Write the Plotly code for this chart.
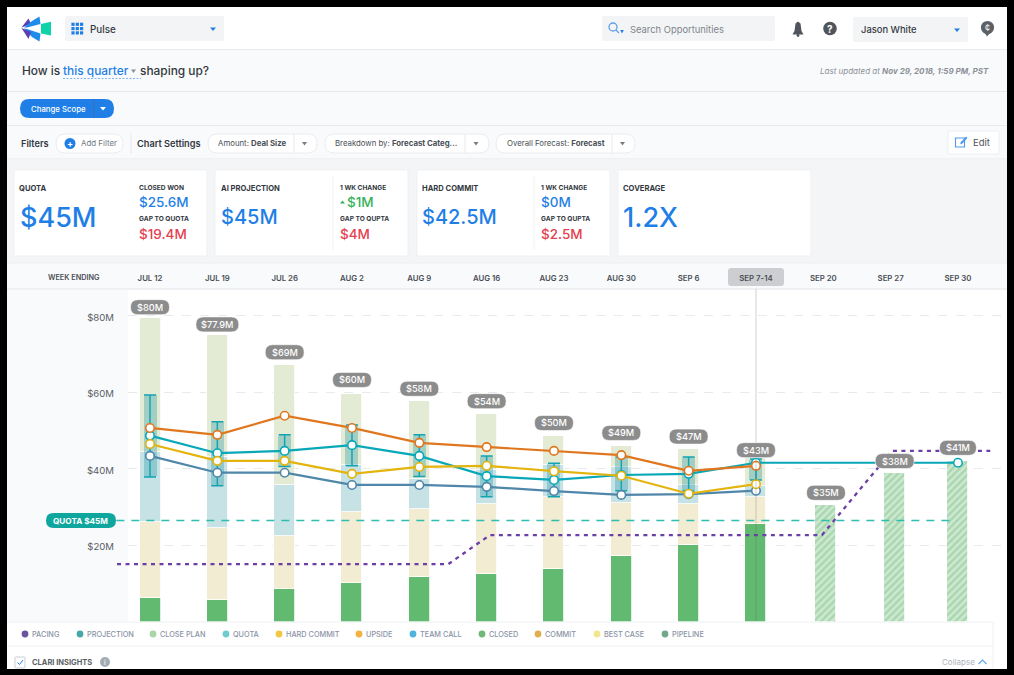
import plotly.graph_objects as go

W, H = 1014, 675
FONT = "Inter, Roboto, sans-serif"

weeks = ["JUL 12", "JUL 19", "JUL 26", "AUG 2", "AUG 9", "AUG 16", "AUG 23", "AUG 30",
         "SEP 6", "SEP 7-14", "SEP 20", "SEP 27", "SEP 30"]
week_pos = [0, 1, 2, 3, 4, 5, 6, 7, 8, 9, 10.04, 11.06, 12]

closed = [6.1, 5.6, 8.5, 10.1, 11.6, 12.4, 13.7, 17.1, 20, 25.5]
commit = [20, 18.8, 13.9, 18.5, 17.8, 18.3, 18.8, 13.9, 10.7, 7]
team_call = [18.2, 18.6, 13.3, 12.3, 7.9, 8.9, 8.4, 9.4, 5, 2.9]
close_plan = [35, 31.8, 31.3, 18.6, 20.4, 14.6, 7.6, 5.5, 9.5, 7.3]
pipeline = [30.5, 38.8, 42]

upside = [50.6, 48.8, 53.8, 50.6, 46.7, 45.6, 44.6, 43.5, 39.4, 40.7]
projection = [48.6, 44, 44.6, 46.1, 43.3, 38, 37, 38.3, 38.6, 41.5, 41.5, 41.5, 41.5]
hard_commit = [46.4, 42, 42, 38.6, 40.4, 40.7, 39.3, 38.1, 33.4, 35.9]
best_case = [43.3, 38.9, 38.9, 35.7, 35.7, 35.2, 34.1, 33.1, 33.3, 34.2]
range_high = [59.2, 52.2, 48.8, 51.4, 48.8, 43.3, 41.4, 43, 43, 42.5]
range_low = [37.8, 35.5, 40.5, 40.7, 37.9, 32.6, 32.6, 34.2, 34.1, 37]

pacing_x = [-0.49, 4.43, 5.05, 9.98, 11.02, 12.48]
pacing_y = [15, 15, 22.6, 22.6, 44.6, 44.6]
quota_x = [-0.5, 11.98]
quota_y = [26.4, 26.4]

total_labels = ["$80M", "$77.9M", "$69M", "$60M", "$58M", "$54M", "$50M", "$49M", "$47M",
                "$43M", "$35M", "$38M", "$41M"]
total_tops = [79.3, 74.8, 67, 59.5, 57.7, 54.2, 48.5, 45.9, 45.2, 42.7, 30.5, 38.8, 42]
label_lift = [11, 11, 13, 14, 12, 13, 13, 13, 12, 8, 12, 12, 13]
label_width = [39, 43, 39, 39, 39, 39, 39, 39, 39, 39, 39, 39, 37]

y_ticks = [0, 20, 40, 60, 80]
y_labels = ["", "$20M", "$40M", "$60M", "$80M"]

legend_names = ["PACING", "PROJECTION", "CLOSE PLAN", "QUOTA", "HARD COMMIT", "UPSIDE",
                "TEAM CALL", "CLOSED", "COMMIT", "BEST CASE", "PIPELINE"]
legend_colors = ["#6B559F", "#45A8A6", "#A9D6A8", "#6ECCCC", "#F3C63F", "#F3B23F",
                 "#4FB4DA", "#70B877", "#E0AE4E", "#F3E78E", "#6FA88A"]
legend_dot_x = [25, 80, 153, 226, 279, 359, 413, 482, 538, 597, 665]

BLUE = "#1F7FE6"
RED = "#E5404F"
GREEN = "#35B25A"
DARK = "#33383F"
GREY = "#7C828A"
LINE = "#E7E9EC"
PANEL = "#F9FAFC"


def px(x):
    return x / W


def py(y):
    return 1 - y / H


shapes = []
annots = []


def rect(x0, y0, x1, y1, fill, line=None, layer="below", lw=1):
    shapes.append(dict(type="rect", xref="paper", yref="paper", x0=px(x0), x1=px(x1), y0=py(y0), y1=py(y1),
                       fillcolor=fill, line=dict(color=line or fill, width=lw if line else 0), layer=layer))


def rrect(x0, y0, x1, y1, r, fill, line=None, layer="below"):
    p = [("M", x0 + r, y0), ("L", x1 - r, y0), ("Q", x1, y0, x1, y0 + r), ("L", x1, y1 - r),
         ("Q", x1, y1, x1 - r, y1), ("L", x0 + r, y1), ("Q", x0, y1, x0, y1 - r), ("L", x0, y0 + r),
         ("Q", x0, y0, x0 + r, y0)]
    d = ""
    for s in p:
        d += s[0] + " ".join(f"{px(s[i]):.5f},{py(s[i + 1]):.5f}" for i in range(1, len(s), 2)) + " "
    shapes.append(dict(type="path", xref="paper", yref="paper", path=d + "Z", fillcolor=fill,
                       line=dict(color=line or fill, width=1 if line else 0), layer=layer))


def poly(points, fill, layer="below"):
    d = "M" + " L".join(f"{px(a):.5f},{py(b):.5f}" for a, b in points) + " Z"
    shapes.append(dict(type="path", xref="paper", yref="paper", path=d, fillcolor=fill,
                       line=dict(width=0), layer=layer))


def circle(cx, cy, r, fill, line=None, layer="below"):
    shapes.append(dict(type="circle", xref="paper", yref="paper", x0=px(cx - r), x1=px(cx + r),
                       y0=py(cy - r), y1=py(cy + r), fillcolor=fill,
                       line=dict(color=line or fill, width=1.3 if line else 0), layer=layer))


def hline(x0, x1, y, color=LINE, width=1, dash="solid"):
    shapes.append(dict(type="line", xref="paper", yref="paper", x0=px(x0), x1=px(x1), y0=py(y), y1=py(y),
                       line=dict(color=color, width=width, dash=dash), layer="below"))


def vline(x, y0, y1, color=LINE, width=1):
    shapes.append(dict(type="line", xref="paper", yref="paper", x0=px(x), x1=px(x), y0=py(y0), y1=py(y1),
                       line=dict(color=color, width=width), layer="below"))


def text(x, y, s, size=9, color=DARK, anchor="left", weight=400):
    annots.append(dict(xref="paper", yref="paper", x=px(x), y=py(y), text=s, showarrow=False,
                       xanchor=anchor, yanchor="middle", borderpad=0, borderwidth=0,
                       font=dict(family=FONT, size=size, color=color, weight=weight)))


def caret(cx, cy, color=BLUE, s=3):
    poly([(cx - s, cy - 1.5), (cx + s, cy - 1.5), (cx, cy + 2)], color)


# page frame
rect(7, 7, 1007, 669, "#FFFFFF")
rect(7, 50, 1007, 159, PANEL)
rect(7, 160, 1007, 263, "#F4F5F7")
rect(7, 263, 1007, 289, PANEL)
rect(7, 290, 128, 621, PANEL)
hline(7, 1007, 49.5)
hline(7, 1007, 91.5)
hline(7, 1007, 125.5)
hline(7, 1007, 159)
hline(7, 1007, 263, "#ECEEF1")
hline(7, 1007, 289, "#E2E4E8")

# header
poly([(41, 24), (51, 21.7), (51, 35.5), (41, 33.5)], "#0ED3A8")
poly([(21.5, 27.5), (28.5, 18.5), (31, 24)], "#5B3FB5")
poly([(24, 27.5), (32, 21), (39.5, 16.5), (40.5, 24), (27, 27.5)], "#1F8BEA")
poly([(24, 28.5), (27, 29), (40.5, 33.5), (39.5, 41.5), (32, 37)], "#1F8BEA")
poly([(21.5, 28), (31, 32), (28.5, 39)], "#5B3FB5")
rrect(65, 16, 224, 41, 2, "#F3F4F6")
for gx in (73, 77.3, 81.6):
    for gy in (24.3, 28.6, 32.9):
        rect(gx - 1.6, gy - 1.6, gx + 1.6, gy + 1.6, BLUE)
text(90, 29.5, "Pulse", 9.8, DARK, weight=500)
caret(213, 29)
rrect(602, 16, 775, 41, 2, "#F3F4F6")
circle(613, 27, 4, "rgba(0,0,0,0)", "#5E9FEA")
shapes.append(dict(type="line", xref="paper", yref="paper", x0=px(616), x1=px(619), y0=py(30), y1=py(33),
                   line=dict(color="#5E9FEA", width=1.2), layer="below"))
caret(622, 31.5, BLUE, 1.8)
text(630, 29.5, "Search Opportunities", 9.4, "#7E848C")
poly([(798, 21.5), (800.5, 23.5), (801.5, 31), (803.5, 34.5), (792.5, 34.5), (794.5, 31), (795.5, 23.5)], "#50555C")
circle(798, 35.5, 1.4, "#50555C")
circle(830, 28.5, 6.8, "#50555C")
text(830, 28.5, "<b>?</b>", 10, "#FFFFFF", "center")
rrect(853, 17, 968, 42, 2, "#F3F4F6")
text(861, 30, "Jason White", 9.4, DARK, weight=500)
caret(957, 30)
circle(987.5, 27.5, 6.6, "#5C6167")
poly([(985, 33), (990, 33), (987, 36.5)], "#5C6167")
text(987.5, 27.5, "¢", 9, "#FFFFFF", "center")

# title row
text(22, 71, "How is", 11.9, DARK, weight=500)
text(62.5, 71, "this quarter", 11.9, BLUE, weight=500)
caret(133.5, 71, "#8A9098", 2.5)
text(140, 71, "shaping up?", 11.9, DARK, weight=500)
hline(63, 141, 78.5, "#7FB6F0", 1, "2px,1.5px")
text(989, 71, "<i>Last updated at </i><i><b>Nov 29, 2018, 1:59 PM, PST</b></i>", 8, "#8C9198", "right")

# scope button
rrect(20, 99, 114, 118, 9.5, BLUE)
vline(94, 99, 118, "#3E6FB5")
text(30.5, 108.7, "Change Scope", 7.8, "#FFFFFF", weight=500)
caret(103, 108.5, "#FFFFFF")

# filter row
text(21, 143, "Filters", 9.2, DARK, weight=600)
rrect(56, 134, 123, 153, 9.5, "#FFFFFF", "#EAECEF")
circle(70, 143.5, 5.5, BLUE)
text(70, 143, "<b>+</b>", 9, "#FFFFFF", "center")
text(81, 143.5, "Add Filter", 7.9, "#71777F")
vline(131, 133, 154)
text(137, 143.5, "Chart Settings", 9.2, DARK, weight=600)
for x0, x1, div, tx, s in [
    (208, 317, 294, 218, "Amount: <b>Deal Size</b>"),
    (325, 489, 465, 335, "Breakdown by: <b>Forecast Categ...</b>"),
    (496, 635, 612, 507, "Overall Forecast: <b>Forecast</b>"),
]:
    rrect(x0, 134, x1, 153, 9.5, "#FFFFFF", "#EAECEF")
    vline(div, 134, 153)
    caret((div + x1) / 2 - 1, 143.5, "#777D85", 2.5)
    text(tx, 143.5, s, 7.8, "#4A4F56")
rrect(948, 131, 999, 154, 1, "#FFFFFF", "#ECEEF1")
shapes.append(dict(type="rect", xref="paper", yref="paper", x0=px(955.5), x1=px(964.5), y0=py(138), y1=py(147),
                   fillcolor="rgba(0,0,0,0)", line=dict(color="#4E9BEA", width=1.1), layer="below"))
poly([(960, 143), (966, 136.5), (967.5, 138), (961.5, 144.5)], "#4E9BEA")
text(973, 142.7, "Edit", 9.5, "#50555C")

# KPI cards
for x0 in (14, 215, 417, 618):
    rrect(x0, 170, x0 + 193, 256, 1.5, "#FFFFFF", "#EEF0F2")
SM = 6.6
MID = 13.5
text(19, 188, "<b>QUOTA</b>", 7.6, DARK)
text(20, 217, "$45M", 27, BLUE, weight=500)
text(139, 188, "<b>CLOSED WON</b>", SM, DARK)
text(139, 202, "$25.6M", MID, BLUE, weight=500)
text(139, 219, "<b>GAP TO QUOTA</b>", SM, DARK)
text(139, 233.5, "$19.4M", MID, RED, weight=500)
text(221, 188, "<b>AI PROJECTION</b>", 7.6, DARK)
text(221, 217, "$45M", 20, BLUE, weight=500)
vline(333, 176, 250, "#F1F2F4")
text(340, 188, "<b>1 WK CHANGE</b>", SM, DARK)
poly([(340, 203.5), (345, 203.5), (342.5, 200.5)], GREEN)
text(347, 202, "$1M", MID, GREEN, weight=500)
text(340, 219, "<b>GAP TO QUPTA</b>", SM, DARK)
text(340, 233.5, "$4M", MID, RED, weight=500)
text(422, 188, "<b>HARD COMMIT</b>", 7.6, DARK)
text(422, 217, "$42.5M", 20, BLUE, weight=500)
vline(534, 176, 250, "#F1F2F4")
text(541, 188, "<b>1 WK CHANGE</b>", SM, DARK)
text(541, 202, "$0M", MID, BLUE, weight=500)
text(541, 219, "<b>GAP TO QUPTA</b>", SM, DARK)
text(541, 233.5, "$2.5M", MID, RED, weight=500)
text(623, 188, "<b>COVERAGE</b>", 7.6, DARK)
text(623, 217, "1.2X", 27, BLUE, weight=500)

# week row extras
text(74, 277, "WEEK ENDING", 7.3, "#4A4F56", "center", weight=600)
rrect(728, 268, 784, 286, 3, "#CDCED1")

# legend strip
rect(7, 622, 993, 669, "#FFFFFF")
hline(7, 993, 622, "#EEF0F2")
hline(7, 993, 646, "#F1F2F4")
vline(993, 622, 669, "#EEF0F2")
for name, colr, dx in zip(legend_names, legend_colors, legend_dot_x):
    circle(dx, 634, 3.4, colr)
    text(dx + 7, 634, name, 7.3, "#8A94A6", weight=500)
rrect(15, 657, 25, 668, 1, "#FFFFFF", "#C9CDD3")
shapes.append(dict(type="path", xref="paper", yref="paper",
                   path=f"M{px(17.5)},{py(662.5)} L{px(19.5)},{py(664.5)} L{px(23)},{py(660)}",
                   line=dict(color=BLUE, width=1), layer="below"))
text(32, 662, "<b>CLARI INSIGHTS</b>", 7.5, "#5A6068")
circle(105, 662, 5, "#A3ABB5")
text(105, 662, "i", 7, "#FFFFFF", "center")
text(975, 662, "Collapse", 8, "#AEB4BC", "right")
shapes.append(dict(type="path", xref="paper", yref="paper",
                   path=f"M{px(978.5)},{py(664)} L{px(982.5)},{py(660)} L{px(986.5)},{py(664)}",
                   line=dict(color="#5EA5EE", width=1.1), layer="below"))

fig = go.Figure()
x10 = week_pos[:10]
bar_w = 21 / 67.33
for vals, colr in [(closed, "#62BA70"), (commit, "#F2EDD2"), (team_call, "#C7E2E5"), (close_plan, "#E3EBD5")]:
    fig.add_trace(go.Bar(x=x10, y=vals, width=bar_w, marker=dict(color=colr, line=dict(color="#FFFFFF", width=0.8))))
fig.add_trace(go.Bar(x=week_pos[10:], y=pipeline, width=bar_w,
                     marker=dict(color="#CFE8D1", line=dict(color="#FFFFFF", width=0.8),
                                 pattern=dict(shape="/", fgcolor="#82C58F", bgcolor="#CFE8D1", size=5, solidity=0.5))))

# second subplot, wider to the left: range bands, whiskers and lines
ov = dict(xaxis="x2", yaxis="y2")
fig.add_trace(go.Bar(x=x10, base=range_low, y=[h - l for h, l in zip(range_high, range_low)], width=13 / 67.33,
                     marker=dict(color="rgba(15,140,160,0.30)", line=dict(width=0)), **ov))
fig.add_trace(go.Scatter(x=quota_x, y=quota_y, mode="lines",
                         line=dict(color="#2FBDB0", width=1.7, dash="8px,7px"), **ov))
fig.add_trace(go.Scatter(x=pacing_x, y=pacing_y, mode="lines",
                         line=dict(color="#6B3FA5", width=2.3, dash="4px,4.5px"), **ov))
fig.add_trace(go.Scatter(x=x10, y=[(h + l) / 2 for h, l in zip(range_high, range_low)], mode="none",
                         error_y=dict(type="data", symmetric=True, array=[(h - l) / 2 for h, l in zip(range_high, range_low)],
                                      color="#13A4B2", thickness=1.5, width=6), **ov))
marker_x = x10 + [week_pos[12]]
mk = 8.5
for xs, vals, colr in [(x10, best_case, "#4F86A9"), (None, projection, "#08A8B8"),
                       (x10, hard_commit, "#E3B40C"), (x10, upside, "#E0771F")]:
    if xs is None:
        fig.add_trace(go.Scatter(x=week_pos, y=vals, mode="lines", line=dict(color=colr, width=2.2), **ov))
        fig.add_trace(go.Scatter(x=marker_x, y=vals[:10] + [vals[12]], mode="markers",
                                 marker=dict(size=mk, color="#FFFFFF", line=dict(color=colr, width=1.6)), **ov))
    else:
        fig.add_trace(go.Scatter(x=xs, y=vals, mode="lines+markers", line=dict(color=colr, width=2.2),
                                 marker=dict(size=mk, color="#FFFFFF", line=dict(color=colr, width=1.6)), **ov))

# current-week cursor
shapes.append(dict(type="line", xref="x", yref="paper", x0=week_pos[9], x1=week_pos[9], y0=py(289), y1=py(621),
                   line=dict(color="rgba(90,95,100,0.35)", width=0.8), layer="above"))

# quota tag, above the dashed line's start
rrect(46, 513, 116, 528, 7.5, "#0FA79D", layer="above")
text(80, 520.5, "<b>QUOTA $45M</b>", 8.2, "#FFFFFF", "center")

# total pills
for xv, top, lab, lift, w in zip(week_pos, total_tops, total_labels, label_lift, label_width):
    h = w / 2
    r = 7.5
    path = (f"M{-h + r},{lift + r} L{h - r},{lift + r} Q{h},{lift + r} {h},{lift} Q{h},{lift - r} {h - r},{lift - r} "
            f"L{-h + r},{lift - r} Q{-h},{lift - r} {-h},{lift} Q{-h},{lift + r} {-h + r},{lift + r} Z")
    shapes.append(dict(type="path", xref="x", yref="y", xsizemode="pixel", ysizemode="pixel",
                       xanchor=xv, yanchor=top, path=path, fillcolor="#8C8C8C",
                       line=dict(color="#FFFFFF", width=0.6), layer="above"))
    annots.append(dict(xref="x", yref="y", x=xv, y=top, yshift=lift, text=lab, showarrow=False,
                       font=dict(family=FONT, size=9.2, color="#FFFFFF", weight=500), xanchor="center", yanchor="middle"))

top_f, bot_f = py(289), py(621.5)
y_range = [0, (621.5 - 289) / 3.825]
fig.update_layout(
    width=W, height=H, autosize=False,
    margin=dict(l=0, r=0, t=0, b=0, pad=0),
    paper_bgcolor="#000000", plot_bgcolor="rgba(0,0,0,0)",
    barmode="stack", bargap=0, barcornerradius=2, showlegend=False,
    font=dict(family=FONT),
    xaxis=dict(domain=[px(128), px(1003)], range=[(128 - 150) / 67.33, (1003 - 150) / 67.33],
               anchor="y", side="top", showgrid=False, zeroline=False, showline=False, ticks="",
               tickmode="array", tickvals=list(range(13)), ticktext=weeks, tickangle=0,
               tickfont=dict(family=FONT, size=7.8, color="#4A4F56", weight=600), ticklabelstandoff=5),
    yaxis=dict(domain=[bot_f, top_f], range=y_range, anchor="x", showline=False,
               zeroline=False, tickmode="array", tickvals=y_ticks, ticktext=y_labels, ticks="",
               tickfont=dict(family=FONT, size=9.6, color="#5A5F66"), ticklabelstandoff=13, ticklabelshift=2,
               gridcolor="#E9EAEC", griddash="dash", gridwidth=1),
    xaxis2=dict(domain=[px(100), px(1003)], range=[(100 - 150) / 67.33, (1003 - 150) / 67.33],
                anchor="y2", visible=False),
    yaxis2=dict(domain=[bot_f, top_f], range=y_range, anchor="x2", visible=False),
    shapes=shapes, annotations=annots,
)

fig.write_html("out.html", config={"displayModeBar": False},
               post_script="document.body.style.margin='0';document.body.style.overflow='hidden';document.documentElement.style.background='#000';")
